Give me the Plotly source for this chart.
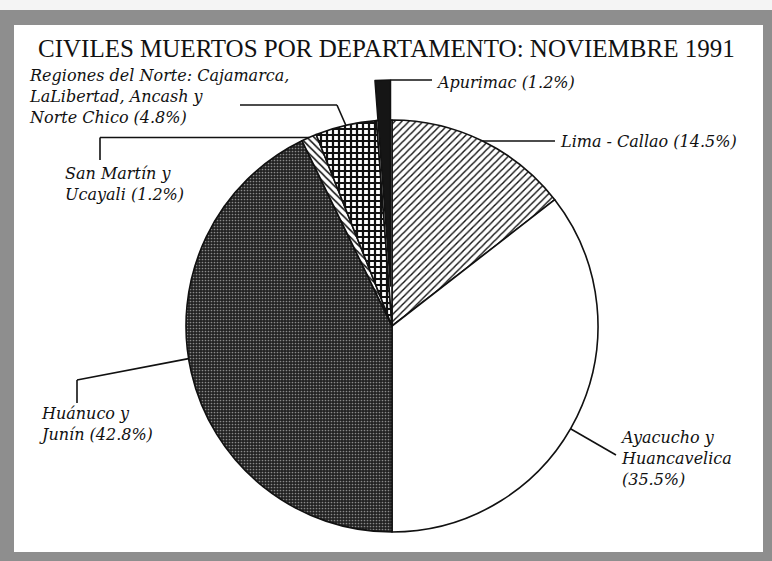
import math
import plotly.graph_objects as go

# ---------------- data ----------------
regions = ["Lima - Callao", "Ayacucho y Huancavelica", "Huánuco y Junín",
           "San Martín y Ucayali",
           "Regiones del Norte: Cajamarca, LaLibertad, Ancash y Norte Chico",
           "Apurímac"]
percent = [14.5, 35.5, 42.8, 1.2, 4.8, 1.2]
label_lines = [
    ["Lima - Callao ({}%)"],
    ["Ayacucho y", "Huancavelica", "({}%)"],
    ["Huánuco y", "Junín ({}%)"],
    ["San Martín y", "Ucayali ({}%)"],
    ["Regiones del Norte: Cajamarca,", "LaLibertad, Ancash y", "Norte Chico ({}%)"],
    ["Apurimac ({}%)"],
]
title_text = "CIVILES MUERTOS POR DEPARTAMENTO: NOVIEMBRE 1991"

# ---------------- layout / style ----------------
W, H = 772, 561
CX, CY, R = 392, 326, 206          # pie centre and radius in px
PULL_PX = 40                        # offset of the exploded slice
exploded = 5                        # index of the exploded slice (Apurímac)

colors = ["white", "white", "#222222", "white", "white", "white"]
pat_shape = ["/", "", ".", "\\", "+", ""]
pat_bg = ["white", "white", "#222222", "white", "white", "white"]
pat_fg = ["#111111", "#111111", "#8a8a8a", "#111111", "#111111", "#111111"]
pat_size = [5, 6, 3, 5, 6, 6]
pat_sol = [0.28, 0.3, 0.25, 0.3, 0.6, 0.3]

LABEL_FONT = dict(family="DejaVu Serif", size=16, color="#111111")

# label placement (px): left x, centre y of the text block
label_pos = [
    (558, 141),
    (618, 458),
    (37, 424),
    (63, 184),
    (27, 97),
    (434, 82),
]
anchor_frac = [0.5, 0.53, 0.525, 0.5, 0.5, 1.0]


def px(x, y):
    return x / W, 1 - y / H


def dom(cx, cy, r):
    return dict(x=[(cx - r) / W, (cx + r) / W], y=[1 - (cy + r) / H, 1 - (cy - r) / H])


total = sum(percent)
cum = [0]
for v in percent:
    cum.append(cum[-1] + v)


def edge(i, frac, cx=CX, cy=CY):
    f = (cum[i] + frac * percent[i]) / total
    a = 2 * math.pi * f
    return cx + R * math.sin(a), cy - R * math.cos(a)


fig = go.Figure()

main_colors = list(colors)
main_colors[exploded] = "white"
fig.add_trace(go.Pie(
    labels=regions, values=percent, sort=False, direction="clockwise",
    rotation=0, textinfo="none", hoverinfo="label+percent",
    domain=dom(CX, CY, R), showlegend=False,
    marker=dict(colors=main_colors,
                line=dict(color="#111111", width=1.6),
                pattern=dict(shape=pat_shape, bgcolor=pat_bg, fgcolor=pat_fg,
                             size=pat_size, solidity=pat_sol, fillmode="replace")),
))

# exploded slice drawn as a second pie shifted outward along its mid angle
mid_a = 2 * math.pi * (cum[exploded] + percent[exploded] / 2) / total
ecx = CX + PULL_PX * math.sin(mid_a)
ecy = CY - PULL_PX * math.cos(mid_a)
ex_colors = ["rgba(0,0,0,0)"] * len(percent)
ex_colors[exploded] = "#151515"
ex_lw = [0] * len(percent)
ex_lw[exploded] = 1.5
fig.add_trace(go.Pie(
    labels=regions, values=percent, sort=False, direction="clockwise",
    rotation=0, textinfo="none", hoverinfo="skip",
    domain=dom(ecx, ecy, R), showlegend=False,
    marker=dict(colors=ex_colors, line=dict(color="#111111", width=ex_lw)),
))

# ---------------- leader lines ----------------
leaders = []
ax, ay = edge(0, anchor_frac[0])
leaders.append([(ax, ay), (555, ay)])
ax, ay = edge(1, anchor_frac[1])
leaders.append([(ax, ay), (616, 455)])
ax, ay = edge(2, anchor_frac[2])
leaders.append([(ax, ay), (77, 380), (77, 403)])
ax, ay = edge(3, anchor_frac[3])
leaders.append([(ax, ay), (100, ay), (100, 160)])
ax, ay = edge(4, anchor_frac[4])
leaders.append([(ax, ay), (337, 105), (240, 105)])
ax, ay = edge(5, anchor_frac[5], ecx, ecy)
leaders.append([(ax, ay), (432, ay)])

shapes = [
    dict(type="rect", xref="paper", yref="paper", layer="below",
         x0=14 / W, x1=763 / W, y0=1 - 552 / H, y1=1 - 25 / H,
         fillcolor="white", line=dict(width=0)),
    dict(type="rect", xref="paper", yref="paper", layer="below",
         x0=0, x1=1, y0=1 - 10 / H, y1=1,
         fillcolor="#f4f4f4", line=dict(width=0)),
]
for pts in leaders:
    for (x0, y0), (x1, y1) in zip(pts[:-1], pts[1:]):
        a0, b0 = px(x0, y0)
        a1, b1 = px(x1, y1)
        shapes.append(dict(type="line", xref="paper", yref="paper",
                           x0=a0, y0=b0, x1=a1, y1=b1,
                           line=dict(color="#111111", width=1.6)))

annotations = []
tx, ty = px(386, 48)
annotations.append(dict(text=title_text, x=tx, y=ty, xref="paper", yref="paper",
                        xanchor="center", yanchor="middle", showarrow=False,
                        font=dict(family="Liberation Serif", size=25, color="#111111")))
for i, lines in enumerate(label_lines):
    lx, ly = label_pos[i]
    txt = "<br>".join(l.format(percent[i]) if "{}" in l else l for l in lines)
    x, y = px(lx, ly)
    annotations.append(dict(text="<i>" + txt + "</i>", x=x, y=y,
                            xref="paper", yref="paper", align="left",
                            xanchor="left", yanchor="middle", showarrow=False,
                            font=LABEL_FONT))

fig.update_layout(
    width=W, height=H, margin=dict(l=0, r=0, t=0, b=0),
    paper_bgcolor="#8e8e8e", plot_bgcolor="white",
    shapes=shapes, annotations=annotations,
)
fig.write_html("out.html", config={"displayModeBar": False},
               post_script="document.body.style.margin='0px';"
                           "document.body.style.overflow='hidden';")
